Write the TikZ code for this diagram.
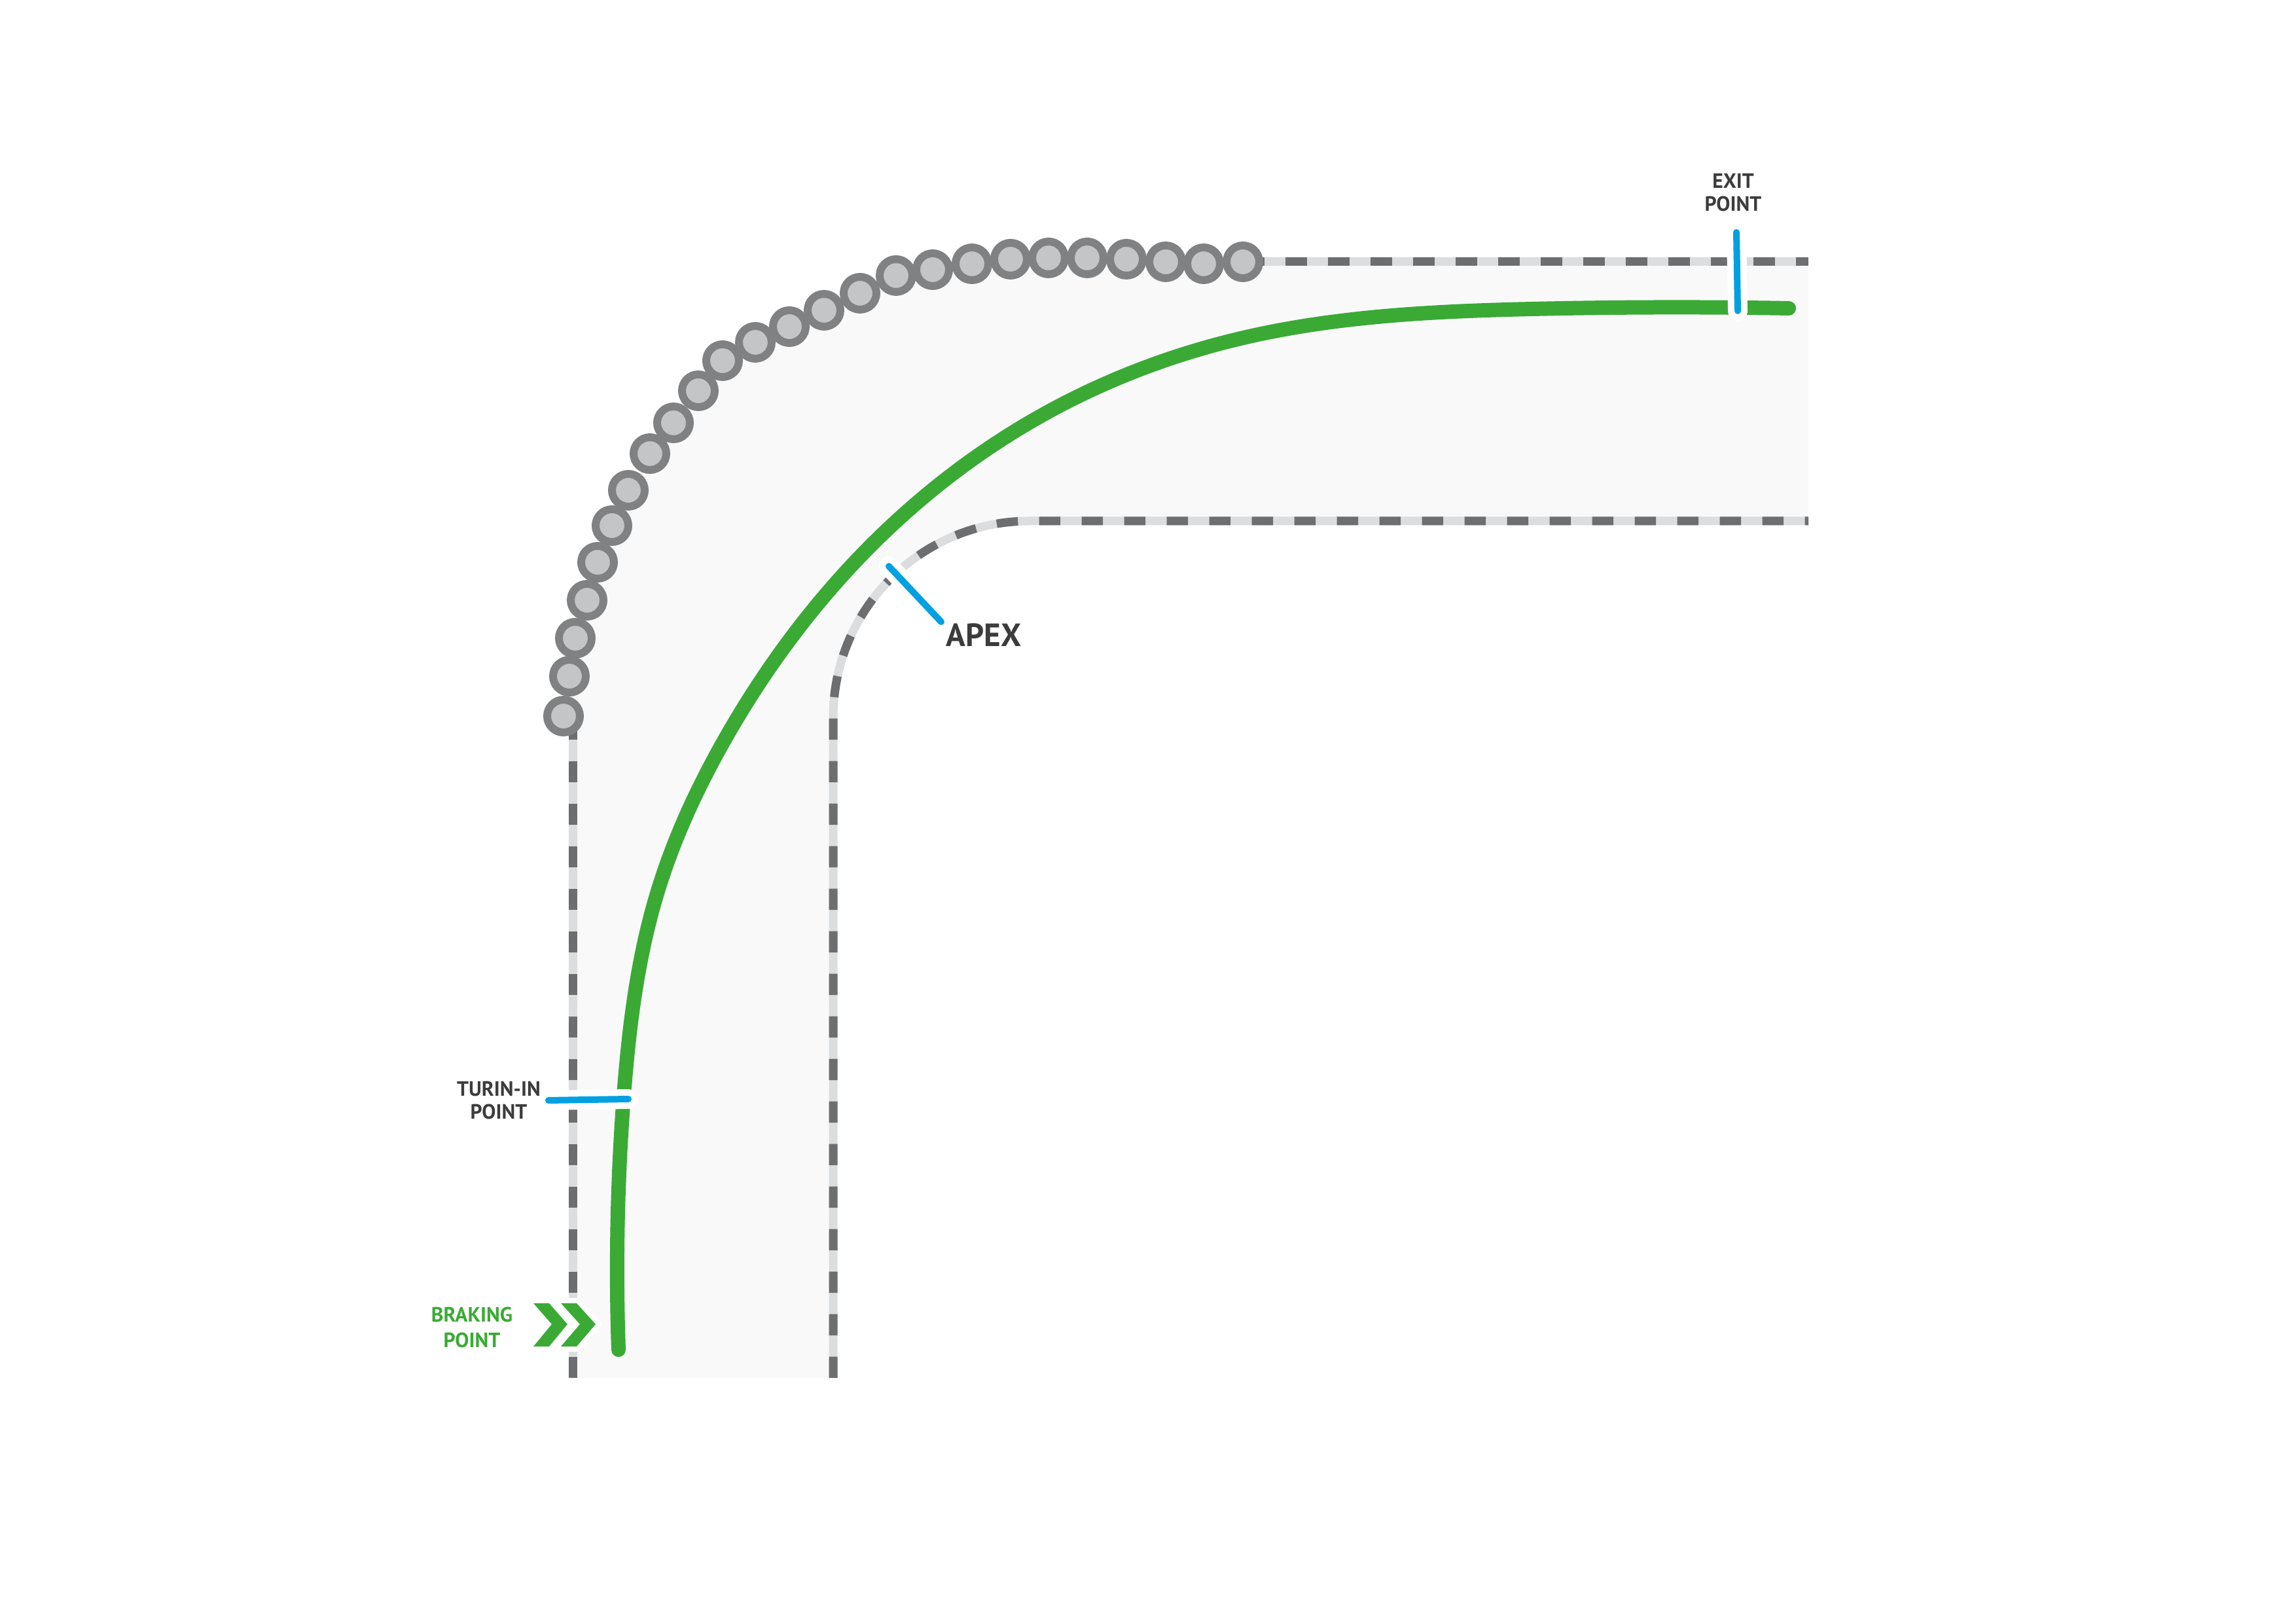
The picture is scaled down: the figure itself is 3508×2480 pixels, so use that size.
\documentclass[tikz,border=0pt]{standalone}
\usepackage{fontspec}
\setmainfont{PT Sans}
\definecolor{trackgrey}{RGB}{249,249,250}
\definecolor{kerbdark}{RGB}{109,110,112}
\definecolor{kerblight}{RGB}{220,221,222}
\definecolor{tyreedge}{RGB}{128,129,131}
\definecolor{tyrefill}{RGB}{196,197,199}
\definecolor{linegreen}{RGB}{58,170,53}
\definecolor{markblue}{RGB}{0,160,227}
\definecolor{labelgrey}{RGB}{60,60,60}
\usetikzlibrary{positioning, calc, hobby}
\tikzset{
  kerb/.style={draw=kerblight, line width=1.3mm,
    postaction={draw=kerbdark, line width=1.3mm, dash pattern=on 3.25mm off 3.25mm}},
  tyre/.style={circle, draw=tyreedge, fill=tyrefill, line width=1.2mm, minimum size=5mm, inner sep=0pt},
  racingline/.style={draw=linegreen, line width=2.2mm, line cap=round, use Hobby shortcut},
  tick/.style={draw=markblue, line width=1mm, line cap=round,
    preaction={draw=white, line width=3mm, line cap=round}},
  chevron/.style={fill=linegreen, preaction={draw=white, line width=1.6mm, line join=round}},
  lbl/.style={font=\bfseries\fontsize{9}{10}\selectfont, text=labelgrey, align=center, inner sep=0pt}
}

\begin{document}
\begin{tikzpicture}[x=0.1mm, y=0.1mm]
  \useasboundingbox (0,0) rectangle (3508,2480);

  % Track surface
  \fill[trackgrey] (875,375) -- (875,1384)
    -- plot[smooth] coordinates {(861,1386) (870,1447) (879,1505) (897,1563) (913,1621) (935,1677)
      (960,1731) (993,1787) (1029,1834) (1067,1883) (1104,1929) (1154,1957) (1206,1981)
      (1259,2006) (1314,2032) (1369,2059) (1425,2068) (1485,2077) (1544,2084) (1602,2086)
      (1661,2086) (1721,2084) (1781,2080) (1839,2077) (1899,2080)}
    -- (2763,2080) -- (2763,1684) -- (1573,1684) arc[start angle=90, end angle=180, radius=300]
    -- (1273,375) -- cycle;

  % Kerbs
  \draw[kerb] (875,375) -- (875,1370);
  \draw[kerb] (1899,2080) -- (2763,2080);
  \draw[kerb] (1273,375) -- (1273,1384) arc[start angle=180, end angle=90, radius=300] -- (2763,1684);

  % Tyre wall
  \foreach \p [count=\i] in {(861,1386), (870,1447), (879,1505), (897,1563), (913,1621), (935,1677),
      (960,1731), (993,1787), (1029,1834), (1067,1883), (1104,1929), (1154,1957), (1206,1981),
      (1259,2006), (1314,2032), (1369,2059), (1425,2068), (1485,2077), (1544,2084), (1602,2086),
      (1661,2086), (1721,2084), (1781,2080), (1839,2077), (1899,2080)}
    \node[tyre] (tyre\i) at \p {};

  % Racing line
  \coordinate (brake) at (945,418);
  \coordinate (turnin) at (953,806);
  \coordinate (entry) at (1110,1355);
  \coordinate (mid) at (1600,1850);
  \coordinate (exit) at (2733,2009);
  \draw[racingline] (brake) .. (turnin) .. (1003,1112) .. (entry) .. (1302,1617) .. (mid)
    .. (1900,1964) .. (2342,2008) .. (exit);

  % Markers
  \coordinate (turnin-a) at (838,799);
  \coordinate (turnin-b) at (960,801);
  \coordinate (apex-a) at (1358,1615);
  \coordinate (apex-b) at (1438,1530);
  \coordinate (exit-a) at (2653,2125);
  \coordinate (exit-b) at (2655,2005);
  \draw[tick] (turnin-a) -- (turnin-b);
  \draw[tick] (apex-a) -- (apex-b);
  \draw[tick] (exit-a) -- (exit-b);

  % Braking chevrons
  \fill[chevron] (815,489) -- (839,489) -- (867,457) -- (839,423) -- (815,423) -- (843,457) -- cycle;
  \fill[chevron] (857,489) -- (881,489) -- (910,457) -- (881,423) -- (857,423) -- (886,457) -- cycle;

  % Labels
  \node[lbl] (exitlbl) at (2648,2186) {EXIT\\POINT};
  \node[lbl] (turninlbl) at (762,799) {TURIN-IN\\POINT};
  \node[lbl, text=linegreen, font=\bfseries\fontsize{9}{11}\selectfont] (braklbl) at (721,452) {BRAKING\\POINT};
  \node[lbl, font=\bfseries\fontsize{14}{16}\selectfont] (apexlbl) at (1503,1510) {APEX};
\end{tikzpicture}
\end{document}
